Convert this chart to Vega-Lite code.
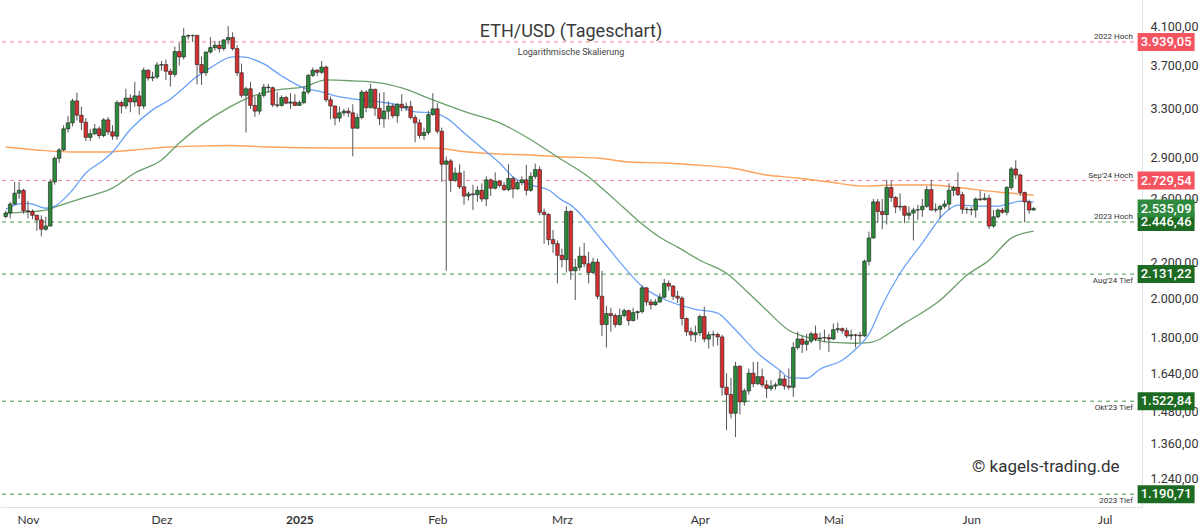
{
"$schema": "https://vega.github.io/schema/vega-lite/v6.json",
"width": 1142, "height": 507,
"autosize": "none",
"padding": {"left": 0, "top": 0, "right": 58, "bottom": 23},
"background": "white",
"config": {"view": {"stroke": null}, "font": "Roboto",
  "locale": {"number": {"decimal": ",", "thousands": ".", "grouping": [3], "currency": ["", " €"]}}},
"title": {"text": "ETH/USD (Tageschart)", "subtitle": "Logarithmische Skalierung", "anchor": "middle", "frame": "group", "offset": -57,
  "fontSize": 18, "font": "Roboto", "fontWeight": "normal", "color": "#3a3a3a", "subtitleFontSize": 9, "subtitleFont": "Roboto", "subtitleColor": "#444", "subtitlePadding": 7},
"datasets": {
"candles": [
{"d":"2024-10-27","o":2482,"h":2520,"l":2470,"c":2505},
{"d":"2024-10-28","o":2505,"h":2580,"l":2470,"c":2565},
{"d":"2024-10-29","o":2565,"h":2720,"l":2560,"c":2640},
{"d":"2024-10-30","o":2640,"h":2720,"l":2600,"c":2660},
{"d":"2024-10-31","o":2660,"h":2670,"l":2500,"c":2520},
{"d":"2024-11-01","o":2520,"h":2585,"l":2470,"c":2515},
{"d":"2024-11-02","o":2515,"h":2530,"l":2465,"c":2490},
{"d":"2024-11-03","o":2490,"h":2495,"l":2390,"c":2460},
{"d":"2024-11-04","o":2460,"h":2490,"l":2355,"c":2400},
{"d":"2024-11-05","o":2400,"h":2480,"l":2390,"c":2420},
{"d":"2024-11-06","o":2420,"h":2740,"l":2420,"c":2720},
{"d":"2024-11-07","o":2720,"h":2910,"l":2700,"c":2895},
{"d":"2024-11-08","o":2895,"h":2975,"l":2860,"c":2960},
{"d":"2024-11-09","o":2960,"h":3160,"l":2950,"c":3130},
{"d":"2024-11-10","o":3130,"h":3240,"l":3100,"c":3180},
{"d":"2024-11-11","o":3180,"h":3390,"l":3150,"c":3370},
{"d":"2024-11-12","o":3370,"h":3445,"l":3200,"c":3245},
{"d":"2024-11-13","o":3245,"h":3320,"l":3120,"c":3185},
{"d":"2024-11-14","o":3185,"h":3220,"l":3030,"c":3060},
{"d":"2024-11-15","o":3060,"h":3130,"l":3030,"c":3090},
{"d":"2024-11-16","o":3090,"h":3170,"l":3080,"c":3130},
{"d":"2024-11-17","o":3130,"h":3150,"l":3050,"c":3075},
{"d":"2024-11-18","o":3075,"h":3220,"l":3060,"c":3205},
{"d":"2024-11-19","o":3205,"h":3230,"l":3080,"c":3105},
{"d":"2024-11-20","o":3105,"h":3160,"l":3040,"c":3070},
{"d":"2024-11-21","o":3070,"h":3375,"l":3040,"c":3355},
{"d":"2024-11-22","o":3355,"h":3370,"l":3260,"c":3325},
{"d":"2024-11-23","o":3325,"h":3480,"l":3300,"c":3395},
{"d":"2024-11-24","o":3395,"h":3430,"l":3270,"c":3360},
{"d":"2024-11-25","o":3360,"h":3545,"l":3320,"c":3415},
{"d":"2024-11-26","o":3415,"h":3460,"l":3250,"c":3325},
{"d":"2024-11-27","o":3325,"h":3680,"l":3300,"c":3655},
{"d":"2024-11-28","o":3655,"h":3665,"l":3555,"c":3580},
{"d":"2024-11-29","o":3580,"h":3640,"l":3550,"c":3590},
{"d":"2024-11-30","o":3590,"h":3735,"l":3570,"c":3705},
{"d":"2024-12-01","o":3705,"h":3745,"l":3650,"c":3710},
{"d":"2024-12-02","o":3710,"h":3760,"l":3560,"c":3645},
{"d":"2024-12-03","o":3645,"h":3670,"l":3500,"c":3615},
{"d":"2024-12-04","o":3615,"h":3890,"l":3590,"c":3840},
{"d":"2024-12-05","o":3840,"h":3930,"l":3700,"c":3785},
{"d":"2024-12-06","o":3785,"h":4085,"l":3760,"c":4000},
{"d":"2024-12-07","o":4000,"h":4020,"l":3965,"c":4005},
{"d":"2024-12-08","o":4005,"h":4015,"l":3940,"c":4008},
{"d":"2024-12-09","o":4008,"h":4010,"l":3520,"c":3710},
{"d":"2024-12-10","o":3710,"h":3790,"l":3515,"c":3630},
{"d":"2024-12-11","o":3630,"h":3840,"l":3600,"c":3835},
{"d":"2024-12-12","o":3835,"h":3990,"l":3820,"c":3880},
{"d":"2024-12-13","o":3880,"h":3950,"l":3850,"c":3905},
{"d":"2024-12-14","o":3905,"h":3950,"l":3830,"c":3870},
{"d":"2024-12-15","o":3870,"h":3965,"l":3850,"c":3960},
{"d":"2024-12-16","o":3960,"h":4107,"l":3910,"c":3985},
{"d":"2024-12-17","o":3985,"h":4040,"l":3850,"c":3870},
{"d":"2024-12-18","o":3870,"h":3905,"l":3600,"c":3630},
{"d":"2024-12-19","o":3630,"h":3720,"l":3400,"c":3420},
{"d":"2024-12-20","o":3420,"h":3500,"l":3100,"c":3480},
{"d":"2024-12-21","o":3480,"h":3545,"l":3300,"c":3330},
{"d":"2024-12-22","o":3330,"h":3410,"l":3230,"c":3280},
{"d":"2024-12-23","o":3280,"h":3450,"l":3250,"c":3420},
{"d":"2024-12-24","o":3420,"h":3525,"l":3400,"c":3495},
{"d":"2024-12-25","o":3495,"h":3525,"l":3440,"c":3490},
{"d":"2024-12-26","o":3490,"h":3500,"l":3315,"c":3335},
{"d":"2024-12-27","o":3335,"h":3450,"l":3310,"c":3330},
{"d":"2024-12-28","o":3330,"h":3420,"l":3320,"c":3400},
{"d":"2024-12-29","o":3400,"h":3415,"l":3340,"c":3350},
{"d":"2024-12-30","o":3350,"h":3440,"l":3300,"c":3360},
{"d":"2024-12-31","o":3360,"h":3430,"l":3325,"c":3330},
{"d":"2025-01-01","o":3330,"h":3375,"l":3325,"c":3355},
{"d":"2025-01-02","o":3355,"h":3500,"l":3340,"c":3450},
{"d":"2025-01-03","o":3450,"h":3620,"l":3430,"c":3605},
{"d":"2025-01-04","o":3605,"h":3680,"l":3590,"c":3655},
{"d":"2025-01-05","o":3655,"h":3665,"l":3600,"c":3635},
{"d":"2025-01-06","o":3635,"h":3745,"l":3620,"c":3685},
{"d":"2025-01-07","o":3685,"h":3700,"l":3360,"c":3380},
{"d":"2025-01-08","o":3380,"h":3410,"l":3210,"c":3325},
{"d":"2025-01-09","o":3325,"h":3330,"l":3160,"c":3220},
{"d":"2025-01-10","o":3220,"h":3320,"l":3185,"c":3265},
{"d":"2025-01-11","o":3265,"h":3300,"l":3240,"c":3280},
{"d":"2025-01-12","o":3280,"h":3310,"l":3230,"c":3265},
{"d":"2025-01-13","o":3265,"h":3340,"l":2910,"c":3135},
{"d":"2025-01-14","o":3135,"h":3260,"l":3130,"c":3225},
{"d":"2025-01-15","o":3225,"h":3470,"l":3210,"c":3450},
{"d":"2025-01-16","o":3450,"h":3465,"l":3270,"c":3310},
{"d":"2025-01-17","o":3310,"h":3525,"l":3305,"c":3475},
{"d":"2025-01-18","o":3475,"h":3480,"l":3240,"c":3305},
{"d":"2025-01-19","o":3305,"h":3440,"l":3160,"c":3215},
{"d":"2025-01-20","o":3215,"h":3450,"l":3140,"c":3280},
{"d":"2025-01-21","o":3280,"h":3365,"l":3210,"c":3325},
{"d":"2025-01-22","o":3325,"h":3345,"l":3220,"c":3240},
{"d":"2025-01-23","o":3240,"h":3350,"l":3180,"c":3340},
{"d":"2025-01-24","o":3340,"h":3430,"l":3280,"c":3310},
{"d":"2025-01-25","o":3310,"h":3355,"l":3280,"c":3320},
{"d":"2025-01-26","o":3320,"h":3370,"l":3210,"c":3225},
{"d":"2025-01-27","o":3225,"h":3250,"l":3020,"c":3180},
{"d":"2025-01-28","o":3180,"h":3210,"l":3050,"c":3075},
{"d":"2025-01-29","o":3075,"h":3140,"l":3040,"c":3100},
{"d":"2025-01-30","o":3100,"h":3285,"l":3080,"c":3250},
{"d":"2025-01-31","o":3250,"h":3440,"l":3240,"c":3300},
{"d":"2025-02-01","o":3300,"h":3350,"l":3090,"c":3110},
{"d":"2025-02-02","o":3110,"h":3140,"l":2720,"c":2850},
{"d":"2025-02-03","o":2850,"h":2910,"l":2150,"c":2875},
{"d":"2025-02-04","o":2875,"h":2890,"l":2650,"c":2730},
{"d":"2025-02-05","o":2730,"h":2825,"l":2720,"c":2785},
{"d":"2025-02-06","o":2785,"h":2850,"l":2670,"c":2685},
{"d":"2025-02-07","o":2685,"h":2800,"l":2560,"c":2620},
{"d":"2025-02-08","o":2620,"h":2650,"l":2590,"c":2635},
{"d":"2025-02-09","o":2635,"h":2700,"l":2525,"c":2630},
{"d":"2025-02-10","o":2630,"h":2690,"l":2580,"c":2660},
{"d":"2025-02-11","o":2660,"h":2710,"l":2580,"c":2600},
{"d":"2025-02-12","o":2600,"h":2760,"l":2550,"c":2735},
{"d":"2025-02-13","o":2735,"h":2745,"l":2620,"c":2675},
{"d":"2025-02-14","o":2675,"h":2790,"l":2665,"c":2725},
{"d":"2025-02-15","o":2725,"h":2735,"l":2680,"c":2695},
{"d":"2025-02-16","o":2695,"h":2720,"l":2655,"c":2665},
{"d":"2025-02-17","o":2665,"h":2850,"l":2655,"c":2745},
{"d":"2025-02-18","o":2745,"h":2760,"l":2605,"c":2670},
{"d":"2025-02-19","o":2670,"h":2730,"l":2665,"c":2715},
{"d":"2025-02-20","o":2715,"h":2760,"l":2695,"c":2735},
{"d":"2025-02-21","o":2735,"h":2845,"l":2625,"c":2660},
{"d":"2025-02-22","o":2660,"h":2790,"l":2650,"c":2760},
{"d":"2025-02-23","o":2760,"h":2855,"l":2740,"c":2810},
{"d":"2025-02-24","o":2810,"h":2835,"l":2490,"c":2510},
{"d":"2025-02-25","o":2510,"h":2535,"l":2310,"c":2495},
{"d":"2025-02-26","o":2495,"h":2505,"l":2300,"c":2335},
{"d":"2025-02-27","o":2335,"h":2395,"l":2255,"c":2310},
{"d":"2025-02-28","o":2310,"h":2330,"l":2080,"c":2240},
{"d":"2025-03-01","o":2240,"h":2280,"l":2170,"c":2215},
{"d":"2025-03-02","o":2215,"h":2550,"l":2140,"c":2515},
{"d":"2025-03-03","o":2515,"h":2525,"l":2100,"c":2150},
{"d":"2025-03-04","o":2150,"h":2220,"l":1990,"c":2170},
{"d":"2025-03-05","o":2170,"h":2290,"l":2150,"c":2235},
{"d":"2025-03-06","o":2235,"h":2315,"l":2170,"c":2190},
{"d":"2025-03-07","o":2190,"h":2260,"l":2080,"c":2140},
{"d":"2025-03-08","o":2140,"h":2225,"l":2130,"c":2200},
{"d":"2025-03-09","o":2200,"h":2220,"l":1995,"c":2010},
{"d":"2025-03-10","o":2010,"h":2150,"l":1810,"c":1865},
{"d":"2025-03-11","o":1865,"h":1960,"l":1755,"c":1920},
{"d":"2025-03-12","o":1920,"h":1950,"l":1830,"c":1910},
{"d":"2025-03-13","o":1910,"h":1920,"l":1850,"c":1865},
{"d":"2025-03-14","o":1865,"h":1945,"l":1860,"c":1910},
{"d":"2025-03-15","o":1910,"h":1945,"l":1900,"c":1935},
{"d":"2025-03-16","o":1935,"h":1940,"l":1860,"c":1885},
{"d":"2025-03-17","o":1885,"h":1950,"l":1880,"c":1925},
{"d":"2025-03-18","o":1925,"h":1935,"l":1890,"c":1930},
{"d":"2025-03-19","o":1930,"h":2070,"l":1920,"c":2055},
{"d":"2025-03-20","o":2055,"h":2060,"l":1960,"c":1980},
{"d":"2025-03-21","o":1980,"h":1995,"l":1940,"c":1965},
{"d":"2025-03-22","o":1965,"h":1995,"l":1960,"c":1980},
{"d":"2025-03-23","o":1980,"h":2025,"l":1975,"c":2005},
{"d":"2025-03-24","o":2005,"h":2105,"l":2000,"c":2080},
{"d":"2025-03-25","o":2080,"h":2095,"l":2040,"c":2065},
{"d":"2025-03-26","o":2065,"h":2070,"l":1990,"c":2010},
{"d":"2025-03-27","o":2010,"h":2040,"l":1975,"c":2000},
{"d":"2025-03-28","o":2000,"h":2010,"l":1860,"c":1895},
{"d":"2025-03-29","o":1895,"h":1900,"l":1810,"c":1830},
{"d":"2025-03-30","o":1830,"h":1850,"l":1785,"c":1815},
{"d":"2025-03-31","o":1815,"h":1860,"l":1780,"c":1825},
{"d":"2025-04-01","o":1825,"h":1915,"l":1810,"c":1905},
{"d":"2025-04-02","o":1905,"h":1955,"l":1780,"c":1795},
{"d":"2025-04-03","o":1795,"h":1830,"l":1750,"c":1815},
{"d":"2025-04-04","o":1815,"h":1835,"l":1760,"c":1817},
{"d":"2025-04-05","o":1817,"h":1825,"l":1765,"c":1805},
{"d":"2025-04-06","o":1805,"h":1815,"l":1545,"c":1580},
{"d":"2025-04-07","o":1580,"h":1640,"l":1410,"c":1550},
{"d":"2025-04-08","o":1550,"h":1620,"l":1455,"c":1475},
{"d":"2025-04-09","o":1475,"h":1690,"l":1385,"c":1670},
{"d":"2025-04-10","o":1670,"h":1675,"l":1470,"c":1520},
{"d":"2025-04-11","o":1520,"h":1575,"l":1505,"c":1565},
{"d":"2025-04-12","o":1565,"h":1660,"l":1550,"c":1640},
{"d":"2025-04-13","o":1640,"h":1690,"l":1580,"c":1595},
{"d":"2025-04-14","o":1595,"h":1690,"l":1590,"c":1625},
{"d":"2025-04-15","o":1625,"h":1660,"l":1580,"c":1590},
{"d":"2025-04-16","o":1590,"h":1610,"l":1535,"c":1575},
{"d":"2025-04-17","o":1575,"h":1610,"l":1565,"c":1585},
{"d":"2025-04-18","o":1585,"h":1600,"l":1570,"c":1590},
{"d":"2025-04-19","o":1590,"h":1650,"l":1585,"c":1615},
{"d":"2025-04-20","o":1615,"h":1630,"l":1570,"c":1585},
{"d":"2025-04-21","o":1585,"h":1660,"l":1570,"c":1580},
{"d":"2025-04-22","o":1580,"h":1780,"l":1540,"c":1755},
{"d":"2025-04-23","o":1755,"h":1830,"l":1745,"c":1795},
{"d":"2025-04-24","o":1795,"h":1810,"l":1730,"c":1770},
{"d":"2025-04-25","o":1770,"h":1820,"l":1740,"c":1785},
{"d":"2025-04-26","o":1785,"h":1830,"l":1775,"c":1820},
{"d":"2025-04-27","o":1820,"h":1860,"l":1785,"c":1795},
{"d":"2025-04-28","o":1795,"h":1825,"l":1745,"c":1800},
{"d":"2025-04-29","o":1800,"h":1840,"l":1780,"c":1802},
{"d":"2025-04-30","o":1802,"h":1820,"l":1735,"c":1795},
{"d":"2025-05-01","o":1795,"h":1870,"l":1790,"c":1840},
{"d":"2025-05-02","o":1840,"h":1875,"l":1825,"c":1845},
{"d":"2025-05-03","o":1845,"h":1850,"l":1820,"c":1835},
{"d":"2025-05-04","o":1835,"h":1850,"l":1800,"c":1810},
{"d":"2025-05-05","o":1810,"h":1840,"l":1790,"c":1815},
{"d":"2025-05-06","o":1815,"h":1820,"l":1755,"c":1813},
{"d":"2025-05-07","o":1813,"h":1830,"l":1780,"c":1810},
{"d":"2025-05-08","o":1810,"h":2215,"l":1805,"c":2205},
{"d":"2025-05-09","o":2205,"h":2385,"l":2180,"c":2345},
{"d":"2025-05-10","o":2345,"h":2600,"l":2340,"c":2580},
{"d":"2025-05-11","o":2580,"h":2600,"l":2440,"c":2515},
{"d":"2025-05-12","o":2515,"h":2600,"l":2400,"c":2495},
{"d":"2025-05-13","o":2495,"h":2735,"l":2430,"c":2680},
{"d":"2025-05-14","o":2680,"h":2725,"l":2580,"c":2610},
{"d":"2025-05-15","o":2610,"h":2620,"l":2505,"c":2545},
{"d":"2025-05-16","o":2545,"h":2640,"l":2520,"c":2550},
{"d":"2025-05-17","o":2550,"h":2555,"l":2440,"c":2490},
{"d":"2025-05-18","o":2490,"h":2550,"l":2460,"c":2505},
{"d":"2025-05-19","o":2505,"h":2540,"l":2330,"c":2525},
{"d":"2025-05-20","o":2525,"h":2560,"l":2460,"c":2527},
{"d":"2025-05-21","o":2527,"h":2600,"l":2480,"c":2550},
{"d":"2025-05-22","o":2550,"h":2690,"l":2540,"c":2665},
{"d":"2025-05-23","o":2665,"h":2735,"l":2520,"c":2525},
{"d":"2025-05-24","o":2525,"h":2570,"l":2510,"c":2530},
{"d":"2025-05-25","o":2530,"h":2560,"l":2470,"c":2550},
{"d":"2025-05-26","o":2550,"h":2590,"l":2535,"c":2565},
{"d":"2025-05-27","o":2565,"h":2710,"l":2525,"c":2660},
{"d":"2025-05-28","o":2660,"h":2690,"l":2620,"c":2680},
{"d":"2025-05-29","o":2680,"h":2790,"l":2620,"c":2630},
{"d":"2025-05-30","o":2630,"h":2650,"l":2500,"c":2530},
{"d":"2025-05-31","o":2530,"h":2545,"l":2500,"c":2528},
{"d":"2025-06-01","o":2528,"h":2545,"l":2490,"c":2525},
{"d":"2025-06-02","o":2525,"h":2610,"l":2475,"c":2600},
{"d":"2025-06-03","o":2600,"h":2660,"l":2585,"c":2595},
{"d":"2025-06-04","o":2595,"h":2640,"l":2590,"c":2605},
{"d":"2025-06-05","o":2605,"h":2630,"l":2400,"c":2420},
{"d":"2025-06-06","o":2420,"h":2525,"l":2410,"c":2480},
{"d":"2025-06-07","o":2480,"h":2535,"l":2470,"c":2525},
{"d":"2025-06-08","o":2525,"h":2540,"l":2500,"c":2510},
{"d":"2025-06-09","o":2510,"h":2690,"l":2490,"c":2680},
{"d":"2025-06-10","o":2680,"h":2830,"l":2665,"c":2815},
{"d":"2025-06-11","o":2815,"h":2880,"l":2740,"c":2770},
{"d":"2025-06-12","o":2770,"h":2780,"l":2620,"c":2645},
{"d":"2025-06-13","o":2645,"h":2650,"l":2445,"c":2580},
{"d":"2025-06-14","o":2580,"h":2595,"l":2500,"c":2525},
{"d":"2025-06-15","o":2525,"h":2545,"l":2520,"c":2535.09}
],
"ma20": [
{"d":"2024-10-27","v":2530},{"d":"2024-10-31","v":2572},{"d":"2024-11-02","v":2565},{"d":"2024-11-05","v":2537},{"d":"2024-11-07","v":2551},{"d":"2024-11-11","v":2662},{"d":"2024-11-14","v":2785},{"d":"2024-11-18","v":2882},{"d":"2024-11-20","v":2944},{"d":"2024-11-24","v":3124},{"d":"2024-11-29","v":3291},{"d":"2024-12-03","v":3385},{"d":"2024-12-06","v":3488},{"d":"2024-12-08","v":3563},{"d":"2024-12-12","v":3678},{"d":"2024-12-17","v":3787},{"d":"2024-12-19","v":3787},{"d":"2024-12-24","v":3717},{"d":"2024-12-28","v":3600},{"d":"2025-01-02","v":3488},{"d":"2025-01-06","v":3451},{"d":"2025-01-09","v":3415},{"d":"2025-01-13","v":3388},{"d":"2025-01-19","v":3361},{"d":"2025-01-23","v":3335},{"d":"2025-01-27","v":3274},{"d":"2025-01-31","v":3265},{"d":"2025-02-03","v":3222},{"d":"2025-02-07","v":3096},{"d":"2025-02-11","v":2975},{"d":"2025-02-15","v":2859},{"d":"2025-02-18","v":2756},{"d":"2025-02-22","v":2698},{"d":"2025-02-26","v":2662},{"d":"2025-03-01","v":2592},{"d":"2025-03-03","v":2558},{"d":"2025-03-10","v":2331},{"d":"2025-03-16","v":2141},{"d":"2025-03-19","v":2064},{"d":"2025-03-24","v":1994},{"d":"2025-03-31","v":1942},{"d":"2025-04-05","v":1922},{"d":"2025-04-08","v":1862},{"d":"2025-04-14","v":1729},{"d":"2025-04-19","v":1652},{"d":"2025-04-21","v":1622},{"d":"2025-04-25","v":1618},{"d":"2025-04-28","v":1657},{"d":"2025-05-03","v":1697},{"d":"2025-05-06","v":1747},{"d":"2025-05-09","v":1818},{"d":"2025-05-12","v":1963},{"d":"2025-05-16","v":2136},{"d":"2025-05-21","v":2313},{"d":"2025-05-26","v":2504},{"d":"2025-05-29","v":2558},{"d":"2025-06-04","v":2551},{"d":"2025-06-07","v":2551},{"d":"2025-06-10","v":2572},{"d":"2025-06-12","v":2585},{"d":"2025-06-15","v":2578}
],
"ma50": [
{"d":"2024-10-27","v":2504},{"d":"2024-10-31","v":2511},{"d":"2024-11-05","v":2524},{"d":"2024-11-07","v":2544},{"d":"2024-11-14","v":2613},{"d":"2024-11-20","v":2676},{"d":"2024-11-25","v":2785},{"d":"2024-12-01","v":2882},{"d":"2024-12-05","v":3015},{"d":"2024-12-10","v":3163},{"d":"2024-12-16","v":3308},{"d":"2024-12-21","v":3406},{"d":"2024-12-27","v":3469},{"d":"2025-01-02","v":3497},{"d":"2025-01-07","v":3563},{"d":"2025-01-13","v":3553},{"d":"2025-01-19","v":3535},{"d":"2025-01-24","v":3488},{"d":"2025-01-31","v":3379},{"d":"2025-02-08","v":3265},{"d":"2025-02-15","v":3180},{"d":"2025-02-21","v":3063},{"d":"2025-02-28","v":2905},{"d":"2025-03-07","v":2756},{"d":"2025-03-13","v":2592},{"d":"2025-03-18","v":2458},{"d":"2025-03-23","v":2350},{"d":"2025-03-27","v":2289},{"d":"2025-04-01","v":2211},{"d":"2025-04-07","v":2136},{"d":"2025-04-12","v":2026},{"d":"2025-04-16","v":1937},{"d":"2025-04-21","v":1837},{"d":"2025-04-25","v":1804},{"d":"2025-04-30","v":1780},{"d":"2025-05-06","v":1775},{"d":"2025-05-09","v":1778},{"d":"2025-05-17","v":1872},{"d":"2025-05-25","v":1989},{"d":"2025-05-31","v":2125},{"d":"2025-06-05","v":2211},{"d":"2025-06-10","v":2344},{"d":"2025-06-15","v":2388}
],
"ma200": [
{"d":"2024-10-27","v":2983},{"d":"2024-11-03","v":2960},{"d":"2024-11-11","v":2944},{"d":"2024-11-18","v":2944},{"d":"2024-11-25","v":2960},{"d":"2024-12-03","v":2983},{"d":"2024-12-10","v":2991},{"d":"2024-12-16","v":2995},{"d":"2024-12-25","v":2983},{"d":"2025-01-09","v":2975},{"d":"2025-01-24","v":2975},{"d":"2025-01-31","v":2975},{"d":"2025-02-08","v":2944},{"d":"2025-02-15","v":2928},{"d":"2025-02-22","v":2921},{"d":"2025-03-02","v":2905},{"d":"2025-03-09","v":2898},{"d":"2025-03-16","v":2867},{"d":"2025-03-24","v":2859},{"d":"2025-03-31","v":2844},{"d":"2025-04-08","v":2822},{"d":"2025-04-16","v":2770},{"d":"2025-04-23","v":2748},{"d":"2025-04-30","v":2719},{"d":"2025-05-08","v":2690},{"d":"2025-05-15","v":2698},{"d":"2025-05-23","v":2698},{"d":"2025-05-30","v":2676},{"d":"2025-06-07","v":2648},{"d":"2025-06-15","v":2627}
],
"levels": [
{"v":3939.05,"name":"2022 Hoch","typ":"Widerstand"},
{"v":2729.54,"name":"Sep'24 Hoch","typ":"Widerstand"},
{"v":2446.46,"name":"2023 Hoch","typ":"Unterstützung"},
{"v":2131.22,"name":"Aug'24 Tief","typ":"Unterstützung"},
{"v":1522.84,"name":"Okt'23 Tief","typ":"Unterstützung"},
{"v":1190.71,"name":"2023 Tief","typ":"Unterstützung"},
{"v":2535.09,"name":"Kurs","typ":"Kurs"}
],
"notes": [
{"text":"© kagels-trading.de"}
]
},
"layer": [
{
 "data": {"name": "levels"},
 "transform": [{"filter": "datum.typ != 'Kurs'"}],
 "mark": {"type": "rule", "strokeDash": [4, 4], "strokeWidth": 1},
 "encoding": {
  "y": {"field": "v", "type": "quantitative",
   "scale": {"type": "log", "domain": [1151, 4401], "nice": false, "zero": false},
   "axis": {"orient": "right", "title": null, "values": [1240, 1360, 1480, 1640, 1800, 2000, 2200, 2600, 2900, 3300, 3700, 4100],
    "format": ",.2f", "ticks": false, "grid": false, "domainColor": "#dfe2ea", "labelFontSize": 12.5, "labelFont": "Roboto", "labelColor": "#333", "labelPadding": 8}},
  "color": {"condition": {"test": "datum.typ == 'Widerstand'", "value": "#f5868b"}, "value": "#4a9550"}
 }
},
{
 "data": {"name": "ma200"},
 "mark": {"type": "line", "strokeWidth": 1.4, "interpolate": "monotone", "color": "#ffa35c"},
 "encoding": {
  "x": {"field": "d", "type": "temporal",
   "scale": {"type": "utc", "domain": [{"year": 2024, "month": 10, "date": 26, "hours": 20, "utc": true}, {"year": 2025, "month": 7, "date": 8, "hours": 6, "utc": true}]},
   "axis": {"title": null, "orient": "bottom", "ticks": false, "grid": false, "domainColor": "#dfe2ea", "labelFlush": false,
    "values": [{"year": 2024, "month": 11, "date": 1, "utc": true}, {"year": 2024, "month": 12, "date": 1, "utc": true}, {"year": 2025, "month": 1, "date": 1, "utc": true}, {"year": 2025, "month": 2, "date": 1, "utc": true}, {"year": 2025, "month": 3, "date": 1, "utc": true}, {"year": 2025, "month": 4, "date": 1, "utc": true}, {"year": 2025, "month": 5, "date": 1, "utc": true}, {"year": 2025, "month": 6, "date": 1, "utc": true}, {"year": 2025, "month": 7, "date": 1, "utc": true}],
    "labelExpr": "utcmonth(datum.value) == 0 ? utcFormat(datum.value, '%Y') : ['Jan','Feb','Mrz','Apr','Mai','Jun','Jul','Aug','Sep','Okt','Nov','Dez'][utcmonth(datum.value)]",
    "labelFontWeight": {"condition": {"test": "utcmonth(datum.value) == 0", "value": "bold"}, "value": "normal"},
    "labelFontSize": 12, "labelFont": "Lato", "labelColor": "#333", "labelPadding": 7}},
  "y": {"field": "v", "type": "quantitative"}
 }
},
{
 "data": {"name": "ma50"},
 "mark": {"type": "line", "strokeWidth": 1.3, "interpolate": "monotone", "color": "#6a9e6a"},
 "encoding": {"x": {"field": "d", "type": "temporal"}, "y": {"field": "v", "type": "quantitative"}}
},
{
 "data": {"name": "ma20"},
 "mark": {"type": "line", "strokeWidth": 1.3, "interpolate": "monotone", "color": "#6aa2f8"},
 "encoding": {"x": {"field": "d", "type": "temporal"}, "y": {"field": "v", "type": "quantitative"}}
},
{
 "data": {"name": "candles"},
 "mark": {"type": "rule", "strokeWidth": 1, "color": "#555"},
 "encoding": {"x": {"field": "d", "type": "temporal"}, "y": {"field": "l", "type": "quantitative"}, "y2": {"field": "h"}}
},
{
 "data": {"name": "candles"},
 "mark": {"type": "bar", "size": 3.6, "stroke": "#1c1c1c", "strokeWidth": 0.6},
 "encoding": {"x": {"field": "d", "type": "temporal"}, "y": {"field": "o", "type": "quantitative"}, "y2": {"field": "c"},
  "color": {"condition": {"test": "datum.c >= datum.o", "value": "#2b8a3b"}, "value": "#d5302f"}}
},
{
 "data": {"name": "levels"},
 "transform": [{"filter": "indexof(datum.name, 'Hoch') >= 0"}],
 "mark": {"type": "text", "align": "right", "baseline": "bottom", "dy": -1, "fontSize": 8, "font": "Roboto", "color": "#333"},
 "encoding": {"x": {"datum": {"year": 2025, "month": 7, "date": 7, "hours": 8, "utc": true}, "type": "temporal"}, "y": {"field": "v", "type": "quantitative"}, "text": {"field": "name"}}
},
{
 "data": {"name": "levels"},
 "transform": [{"filter": "indexof(datum.name, 'Tief') >= 0"}],
 "mark": {"type": "text", "align": "right", "baseline": "top", "dy": 3, "fontSize": 8, "font": "Roboto", "color": "#333"},
 "encoding": {"x": {"datum": {"year": 2025, "month": 7, "date": 7, "hours": 8, "utc": true}, "type": "temporal"}, "y": {"field": "v", "type": "quantitative"}, "text": {"field": "name"}}
},
{
 "data": {"name": "levels"},
 "mark": {"type": "tick", "orient": "horizontal", "size": 57, "thickness": 18, "opacity": 1},
 "encoding": {"x": {"datum": {"year": 2025, "month": 7, "date": 14, "hours": 19, "utc": true}, "type": "temporal"}, "y": {"field": "v", "type": "quantitative"},
  "color": {"condition": [{"test": "datum.typ == 'Widerstand'", "value": "#f4545f"}, {"test": "datum.typ == 'Kurs'", "value": "#2e8a3e"}], "value": "#1d6b23"}}
},
{
 "data": {"name": "levels"},
 "mark": {"type": "text", "align": "center", "baseline": "middle", "fontSize": 13, "font": "Roboto", "fontWeight": 500, "color": "white"},
 "encoding": {"x": {"datum": {"year": 2025, "month": 7, "date": 14, "hours": 19, "utc": true}, "type": "temporal"}, "y": {"field": "v", "type": "quantitative"}, "text": {"field": "v", "type": "quantitative", "format": ",.2f"}}
},
{
 "data": {"name": "notes"},
 "mark": {"type": "text", "align": "center", "baseline": "middle", "fontSize": 17, "font": "Roboto", "color": "#333"},
 "encoding": {"x": {"datum": {"year": 2025, "month": 6, "date": 17, "hours": 18, "utc": true}, "type": "temporal"}, "y": {"datum": 1280, "type": "quantitative"}, "text": {"field": "text"}}
}
]
}
